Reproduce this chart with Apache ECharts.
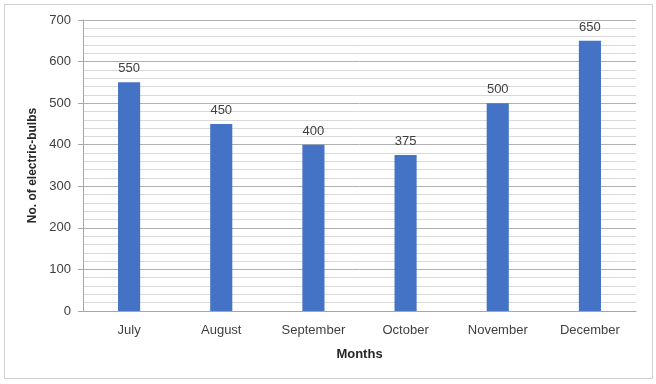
<!DOCTYPE html>
<html><head><meta charset="utf-8">
<script src="https://cdn.jsdelivr.net/npm/echarts@6/dist/echarts.min.js"></script>
<style>html,body{margin:0;padding:0;background:#fff}#c{width:656px;height:384px}
#frame{position:absolute;left:4px;top:4px;width:649px;height:375px;border:1px solid #d0d0d0;box-sizing:border-box;pointer-events:none}</style>
</head><body><div id="c"></div><div id="frame"></div>
<script>
const categories = ['July','August','September','October','November','December'];
const values = [550,450,400,375,500,650];
const yTicks = [0,100,200,300,400,500,600,700];
const font = 'Liberation Sans, Arial, sans-serif';
const chart = echarts.init(document.getElementById('c'));
chart.setOption({
  animation:false,
  grid:{left:83,right:20,top:20,bottom:73},
  xAxis:{type:'category',data:categories,
    name:'Months',nameLocation:'middle',nameGap:37,
    nameTextStyle:{fontFamily:font,fontSize:13,fontWeight:'bold',color:'#262626'},
    axisLine:{lineStyle:{color:'#a6a6a6'}},axisTick:{show:false},
    axisLabel:{fontFamily:font,fontSize:13,color:'#404040',margin:13}},
  yAxis:{type:'value',min:yTicks[0],max:yTicks[yTicks.length-1],interval:100,
    name:'No. of electric-bulbs',nameLocation:'middle',nameGap:42,
    nameTextStyle:{fontFamily:font,fontSize:12,fontWeight:'bold',color:'#262626'},
    axisLine:{show:true,lineStyle:{color:'#a6a6a6'}},
    axisTick:{show:true,length:5,lineStyle:{color:'#a6a6a6'}},
    axisLabel:{fontFamily:font,fontSize:13,color:'#404040',margin:12},
    splitLine:{lineStyle:{color:'#b0b0b0'}},
    minorTick:{show:false,splitNumber:5},
    minorSplitLine:{show:true,lineStyle:{color:'#d9d9d9'}}},
  series:[{type:'bar',data:values,barWidth:'24%',
    itemStyle:{color:'#4472c4'},
    label:{show:true,position:'top',distance:7,fontFamily:font,fontSize:13,color:'#404040'}}]
});
</script></body></html>
